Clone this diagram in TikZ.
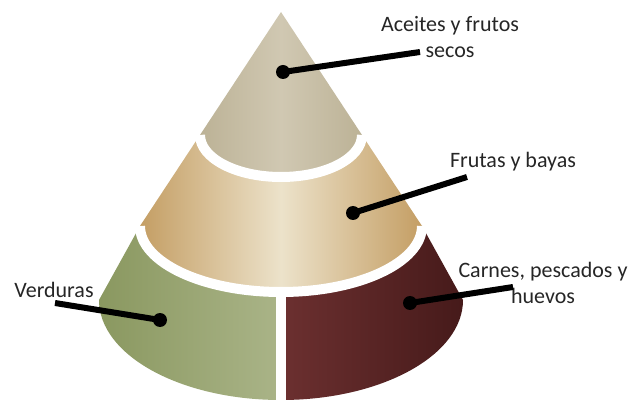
\documentclass[tikz,border=0pt]{standalone}
\usepackage{fontspec}
\setmainfont{Carlito}
\usepackage{xcolor}
\usepackage{tikz}
\usetikzlibrary{positioning}

\definecolor{topdark}{RGB}{188,178,150}
\definecolor{toplight}{RGB}{208,200,178}
\definecolor{middark}{RGB}{196,158,100}
\definecolor{midlight}{RGB}{236,226,202}
\definecolor{vegdark}{RGB}{138,152,96}
\definecolor{veglight}{RGB}{170,180,136}
\definecolor{meatlight}{RGB}{108,48,48}
\definecolor{meatdark}{RGB}{70,26,26}

\tikzset{
  leader/.style={line width=6pt, black},
  dotmark/.style={circle, fill=black, inner sep=0pt, minimum size=14pt},
  lbl/.style={font=\fontsize{22}{26}\selectfont, align=center, text=black!85},
  gap/.style={white, line width=10pt},
}

\begin{document}
\begin{tikzpicture}[x=1pt,y=-1pt]
    \useasboundingbox (0,0) rectangle (629,403);
    % tiers of the cone
    \shade[left color=topdark, right color=topdark, middle color=toplight]
      (281,12) -- (200,135) arc[start angle=180, end angle=0, x radius=81, y radius=42] -- cycle;
    \shade[left color=middark, right color=middark, middle color=midlight]
      (200,135) arc[start angle=180, end angle=0, x radius=81, y radius=42]
      -- (422,226) arc[start angle=0, end angle=180, x radius=141, y radius=66] -- cycle;
    \shade[left color=vegdark, right color=veglight]
      (140,226) arc[start angle=180, end angle=90, x radius=141, y radius=66]
      -- (281,400) arc[start angle=90, end angle=180, x radius=182, y radius=100] -- cycle;
    \shade[left color=meatlight, right color=meatdark]
      (281,292) arc[start angle=90, end angle=0, x radius=141, y radius=66]
      -- (463,300) arc[start angle=0, end angle=90, x radius=182, y radius=100] -- cycle;
    % white gaps
    \draw[gap] (200,135) arc[start angle=180, end angle=0, x radius=81, y radius=42];
    \draw[gap] (140,226) arc[start angle=180, end angle=0, x radius=141, y radius=66];
    \draw[gap] (281,292) -- (281,405);
    % labels
    \node[lbl] (aceites) at (450,37) {Aceites y frutos\\secos};
    \node[lbl] (frutas) at (513,162) {Frutas y bayas};
    \node[lbl] (carnes) at (543,283) {Carnes, pescados y\\huevos};
    \node[lbl] (verduras) at (54,290) {Verduras};
    % leaders
    \node[dotmark] (d1) at (283,72) {};
    \node[dotmark] (d2) at (353,213) {};
    \node[dotmark] (d3) at (410,303) {};
    \node[dotmark] (d4) at (160,320) {};
    \coordinate (e1) at (420,52);
    \coordinate (e2) at (467,177);
    \coordinate (e3) at (513,287);
    \coordinate (e4) at (55,303);
    \draw[leader] (d1.center) -- (e1);
    \draw[leader] (d2.center) -- (e2);
    \draw[leader] (d3.center) -- (e3);
    \draw[leader] (d4.center) -- (e4);
\end{tikzpicture}
\end{document}
